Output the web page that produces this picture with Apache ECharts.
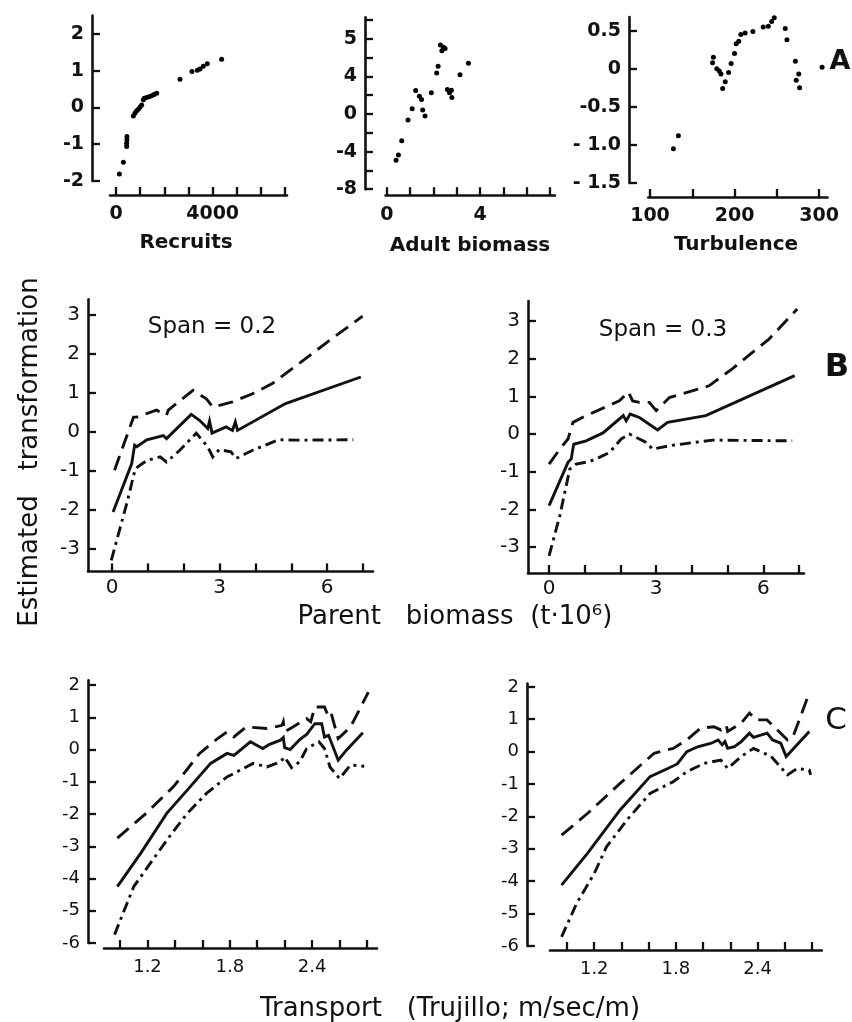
<!DOCTYPE html>
<html><head><meta charset="utf-8">
<script src="https://cdn.jsdelivr.net/npm/echarts@6/dist/echarts.min.js"></script>
<style>html,body{margin:0;padding:0;background:#fff}#c{width:852px;height:1022px}</style>
</head><body><div id="c"></div>
<script>
// ---------- DATA ----------
// Row A : partial residual scatter plots
const recruitsPts = [[138,-1.81],[303,-1.49],[440,-1.06],[440,-0.97],[450,-0.88],[450,-0.79],[717,-0.23],[786,-0.15],[855,-0.09],[924,-0.05],[993,0.01],[1062,0.07],[1131,0.21],[1172,0.25],[1269,0.27],[1366,0.29],[1476,0.32],[1572,0.35],[1683,0.39],[2648,0.77],[3145,0.98],[3366,1.01],[3476,1.05],[3614,1.12],[3779,1.19],[4372,1.31]];
const adultBiomassPts = [[0.4,-4.91],[0.5,-4.35],[0.64,-2.84],[0.91,-0.63],[1.09,0.56],[1.24,2.49],[1.4,1.9],[1.49,1.54],[1.54,0.42],[1.64,-0.21],[1.91,2.25],[2.14,4.35],[2.2,5.09],[2.3,7.33],[2.36,6.74],[2.43,7.09],[2.5,6.98],[2.6,2.6],[2.69,2.25],[2.77,2.53],[2.79,1.75],[3.14,4.18],[3.5,5.4]];
const turbulencePts = [[127.7,-1.05],[133.6,-0.88],[175,0.15],[174,0.08],[179,0.0],[182,-0.03],[184,-0.07],[186,-0.26],[189,-0.17],[193,-0.05],[196,0.07],[200,0.2],[202,0.33],[205,0.36],[207.5,0.45],[212.6,0.47],[221.7,0.49],[234,0.55],[240,0.56],[244,0.62],[247,0.67],[260,0.53],[262,0.38],[272,0.1],[273,-0.15],[276,-0.07],[277,-0.25],[303.6,0.02]];

// Row B : parent biomass, span 0.2 and 0.3 (estimate, upper, lower)
const b1Fit = [[0.03,-2.05],[0.55,-0.81],[0.63,-0.34],[0.69,-0.38],[0.97,-0.2],[1.43,-0.09],[1.52,-0.17],[2.21,0.45],[2.44,0.3],[2.67,0.09],[2.72,0.28],[2.79,-0.03],[3.18,0.13],[3.36,0.04],[3.44,0.26],[3.5,0.04],[4.84,0.73],[6.94,1.41]];
const b1Upper = [[0.07,-0.98],[0.6,0.38],[0.69,0.38],[1.24,0.56],[1.52,0.43],[1.57,0.56],[2.26,1.07],[2.63,0.85],[2.7,0.77],[2.81,0.64],[3.36,0.77],[3.92,0.98],[4.47,1.24],[5.21,1.75],[6.13,2.39],[6.99,2.97]];
const b1Lower = [[-0.02,-3.29],[0.41,-1.84],[0.65,-0.94],[0.97,-0.73],[1.34,-0.64],[1.52,-0.77],[1.89,-0.47],[2.35,-0.03],[2.67,-0.38],[2.81,-0.64],[2.99,-0.45],[3.32,-0.51],[3.46,-0.68],[3.92,-0.47],[4.65,-0.2],[5.21,-0.21],[6.73,-0.2]];
const b2Fit = [[0,-1.9],[0.53,-0.75],[0.62,-0.66],[0.69,-0.27],[1.04,-0.18],[1.51,0.03],[2.08,0.49],[2.16,0.35],[2.27,0.53],[2.53,0.44],[3.04,0.11],[3.32,0.31],[4.39,0.49],[6.88,1.55]];
const b2Upper = [[0,-0.8],[0.3,-0.4],[0.53,-0.13],[0.67,0.31],[1.04,0.49],[1.97,0.88],[2.22,1.12],[2.34,0.88],[2.53,0.84],[2.81,0.84],[3.0,0.62],[3.37,0.97],[4.48,1.28],[5.13,1.73],[6.16,2.52],[6.95,3.32]];
const b2Lower = [[0,-3.23],[0.3,-2.17],[0.58,-0.93],[0.76,-0.8],[1.13,-0.73],[1.41,-0.62],[1.69,-0.49],[2.02,-0.13],[2.25,0],[2.44,-0.09],[2.72,-0.22],[2.9,-0.4],[3.37,-0.31],[4.58,-0.16],[6.81,-0.18]];

// Row C : transport (Trujillo)
const c1Fit = [[0.98,-4.25],[1.15,-3.22],[1.34,-1.98],[1.49,-1.26],[1.66,-0.43],[1.78,-0.12],[1.83,-0.18],[1.95,0.24],[2.04,0.03],[2.09,0.16],[2.17,0.29],[2.19,0.37],[2.2,0.06],[2.24,0],[2.31,0.31],[2.36,0.47],[2.42,0.8],[2.47,0.8],[2.49,0.39],[2.52,0.44],[2.59,-0.33],[2.65,-0.02],[2.77,0.52]];
const c1Upper = [[0.98,-2.75],[1.19,-1.98],[1.39,-1.15],[1.58,-0.12],[1.68,0.24],[1.78,0.55],[1.83,0.39],[1.92,0.7],[2.07,0.65],[2.18,0.75],[2.19,0.86],[2.2,0.55],[2.26,0.7],[2.36,0.96],[2.39,0.86],[2.42,1.32],[2.49,1.32],[2.52,1.01],[2.54,1.11],[2.59,0.34],[2.68,0.7],[2.81,1.78]];
const c1Lower = [[0.96,-5.74],[1.1,-4.25],[1.22,-3.53],[1.36,-2.7],[1.49,-1.98],[1.63,-1.36],[1.78,-0.85],[1.97,-0.43],[2.07,-0.54],[2.17,-0.38],[2.2,-0.23],[2.25,-0.56],[2.31,-0.38],[2.36,0.03],[2.45,0.24],[2.49,0.03],[2.53,-0.54],[2.6,-0.9],[2.68,-0.48],[2.78,-0.52]];
const c2Fit = [[0.96,-4.12],[1.15,-3.14],[1.39,-1.8],[1.61,-0.77],[1.74,-0.52],[1.81,-0.38],[1.88,0],[1.96,0.15],[2.06,0.26],[2.11,0.36],[2.14,0.21],[2.16,0.31],[2.18,0.1],[2.23,0.15],[2.28,0.31],[2.34,0.57],[2.37,0.44],[2.47,0.57],[2.51,0.36],[2.57,0.26],[2.61,-0.15],[2.78,0.62]];
const c2Upper = [[0.96,-2.58],[1.15,-1.91],[1.39,-0.98],[1.64,-0.05],[1.78,0.1],[1.88,0.36],[1.98,0.72],[2.08,0.77],[2.13,0.67],[2.17,0.82],[2.18,0.62],[2.28,0.88],[2.34,1.19],[2.39,0.98],[2.47,0.98],[2.52,0.77],[2.62,0.36],[2.66,0.46],[2.77,1.7]];
const c2Lower = [[0.96,-5.72],[1.07,-4.69],[1.2,-3.76],[1.29,-2.94],[1.44,-2.11],[1.61,-1.29],[1.78,-0.93],[1.88,-0.62],[2.01,-0.36],[2.13,-0.26],[2.18,-0.52],[2.19,-0.46],[2.28,-0.15],[2.37,0.1],[2.5,-0.15],[2.62,-0.72],[2.69,-0.52],[2.78,-0.57],[2.79,-0.72]];

// Ticks and tick labels
const a1XTicks = [0,1000,2000,3000,4000,5000,6000,7000], a1XLabels = [0,4000];
const a1YTicks = [-2,-1,0,1,2];
const a2XTicks = [0,1,2,3,4,5,6,7], a2XLabels = [0,4];
const a2YTicks = [-8,-6,-4,-2,0,2,4,6,8,10], a2YLabels = [-8,-4,0,4,8];
const a2YLabelText = {'-8':'-8','-4':'-4','0':'0','4':'4','8':'5'};
const a3XTicks = [100,150,200,250,300], a3XLabels = [100,200,300];
const a3YTicks = [-1.5,-1,-0.5,0,0.5];
const a3YLabelText = {'-1.5':'- 1.5','-1':'- 1.0','-0.5':'-0.5','0':'0','0.5':'0.5'};
const bXTicks = [0,1,2,3,4,5,6,7], bXLabels = [0,3,6];
const bYTicks = [-3,-2,-1,0,1,2,3];
const cXTicks = [1.0,1.2,1.4,1.6,1.8,2.0,2.2,2.4,2.6,2.8], cXLabels = [1.2,1.8,2.4];
const cYTicks = [-6,-5,-4,-3,-2,-1,0,1,2];

// ---------- STYLE ----------
const FONT = 'DejaVu Sans';
const INK = '#111';
const grids = [
  {left:110, top:15.6, width:177, height:165.4},   // A1
  {left:385.6, top:17.2, width:169.4, height:172}, // A2
  {left:648.3, top:17, width:179.2, height:166},   // A3
  {left:88, top:299.4, width:285, height:271},     // B1
  {left:528, top:301, width:276, height:271},      // B2
  {left:104, top:680.2, width:273, height:262.8},  // C1
  {left:550, top:683.6, width:271.7, height:262.4} // C2
];
function xAx(i, min, max, ticks, labels, fs, bold, offset, margin, fmt) {
  return {type:'value', gridIndex:i, min, max, offset,
    axisLine:{onZero:false, lineStyle:{color:INK, width:2.6}},
    axisTick:{inside:true, length:8, customValues:ticks, lineStyle:{color:INK, width:2.3}},
    axisLabel:{customValues:labels, fontSize:fs, fontFamily:FONT, fontWeight:bold?'bold':'normal', color:INK, margin, formatter: fmt || (v=>String(v))},
    splitLine:{show:false}};
}
function yAx(i, min, max, ticks, labels, fs, bold, offset, fmt) {
  return {type:'value', gridIndex:i, min, max, offset,
    axisLine:{onZero:false, lineStyle:{color:INK, width:2.6}},
    axisTick:{inside:true, length:8, customValues:ticks, lineStyle:{color:INK, width:2.3}},
    axisLabel:{customValues:labels, fontSize:fs, fontFamily:FONT, fontWeight:bold?'bold':'normal', color:INK, margin:8, formatter: fmt || (v=>String(v))},
    splitLine:{show:false}};
}
const DASH = [15,8], DASHDOT = [11,5,3,5];
function line(i, data, type) {
  return {type:'line', xAxisIndex:i, yAxisIndex:i, data, showSymbol:false, symbol:'none', silent:true,
    lineStyle:{color:INK, width:2.9, type, cap:'butt', join:'miter', opacity:1}};
}
function dots(i, data) {
  return {type:'scatter', xAxisIndex:i, yAxisIndex:i, data, symbolSize:5, itemStyle:{color:'#000', opacity:1}, clip:false, silent:true};
}
function txt(text, x, y, size, weight, rot) {
  return {type:'text', x, y, rotation: rot||0,
    style:{text, fontSize:size, fontFamily:FONT, fontWeight:weight||'normal', fill:INK, align:'center', verticalAlign:'middle'}};
}

const option = {
  animation:false,
  backgroundColor:'#fff',
  grid: grids.map(g => Object.assign({containLabel:false}, g)),
  xAxis: [
    xAx(0, -250, 7080, a1XTicks, a1XLabels, 19, true, 14, 10),
    xAx(1, -0.05, 7.21, a2XTicks, a2XLabels, 19, true, 6, 10),
    xAx(2, 98, 310, a3XTicks, a3XLabels, 19, true, 14, 10),
    xAx(3, -0.67, 7.28, bXTicks, bXLabels, 20, false, 1, 6),
    xAx(4, -0.59, 7.14, bXTicks, bXLabels, 20, false, 1, 6),
    xAx(5, 0.883, 2.873, cXTicks, cXLabels, 18, false, 5, 10, v => v.toFixed(1)),
    xAx(6, 0.875, 2.871, cXTicks, cXLabels, 18, false, 4, 10, v => v.toFixed(1))
  ],
  yAxis: [
    yAx(0, -2, 2.5, a1YTicks, a1YTicks, 19, true, 18),
    yAx(1, -8, 10.3, a2YTicks, a2YLabels, 19, true, 20.6, v => a2YLabelText[String(v)]),
    yAx(2, -1.5, 0.68, a3YTicks, a3YTicks, 19, true, 19.3, v => a3YLabelText[String(v)]),
    yAx(3, -3.55, 3.4, bYTicks, bYTicks, 20, false, 0),
    yAx(4, -3.66, 3.53, bYTicks, bYTicks, 20, false, 0),
    yAx(5, -6, 2.15, cYTicks, cYTicks, 18, false, 16),
    yAx(6, -6, 2.1, cYTicks, cYTicks, 18, false, 23)
  ],
  series: [
    dots(0, recruitsPts), dots(1, adultBiomassPts), dots(2, turbulencePts),
    line(3, b1Fit, 'solid'), line(3, b1Upper, DASH), line(3, b1Lower, DASHDOT),
    line(4, b2Fit, 'solid'), line(4, b2Upper, DASH), line(4, b2Lower, DASHDOT),
    line(5, c1Fit, 'solid'), line(5, c1Upper, DASH), line(5, c1Lower, DASHDOT),
    line(6, c2Fit, 'solid'), line(6, c2Upper, DASH), line(6, c2Lower, DASHDOT)
  ],
  graphic: [
    txt('Recruits', 186, 243, 20, 'bold'),
    txt('Adult biomass', 470, 246, 20, 'bold'),
    txt('Turbulence', 736, 245, 20, 'bold'),
    txt('A', 840, 62, 27, 'bold'),
    txt('Span = 0.2', 212, 327, 23),
    txt('Span = 0.3', 663, 330, 23),
    txt('B', 837, 368, 32, 'bold'),
    txt('Parent   biomass  (t·10⁶)', 455, 617, 26),
    txt('C', 836, 721, 31),
    txt('Transport   (Trujillo; m/sec/m)', 450, 1009, 26),
    txt('Estimated   transformation', 30, 452, 26, 'normal', Math.PI/2)
  ]
};
const chart = echarts.init(document.getElementById('c'), null, {renderer:'canvas'});
chart.setOption(option);
</script>
</body></html>
